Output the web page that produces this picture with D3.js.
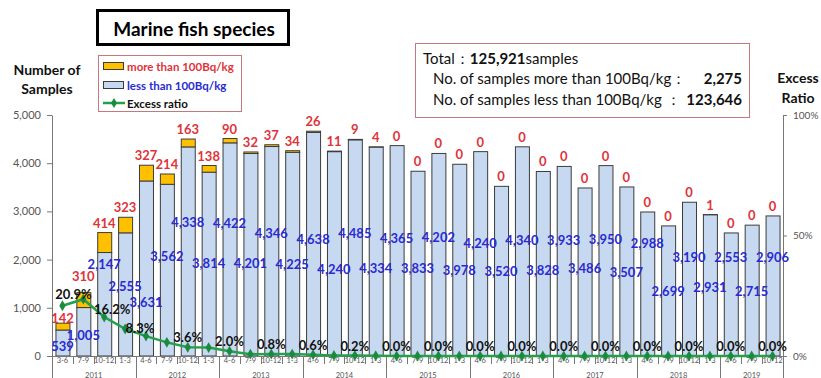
<!DOCTYPE html>
<html>
<head>
<meta charset="utf-8">
<script src="https://cdn.jsdelivr.net/npm/d3@7"></script>
<style>
  html, body { margin: 0; padding: 0; background: #fff; }
  svg { display: block; font-family: Lato, "Open Sans", sans-serif; }
</style>
</head>
<body>
<svg id="chart" width="821" height="378"></svg>
<script>
// Quarterly inspection results, marine fish species (fiscal years 2011-2019)
const periods = [
  "3-6","7-9","10-12","1-3",
  "4-6","7-9","10-12","1-3",
  "4-6","7-9","10-12","1-3",
  "4-6","7-9","10-12","1-3",
  "4-6","7-9","10-12","1-3",
  "4-6","7-9","10-12","1-3",
  "4-6","7-9","10-12","1-3",
  "4-6","7-9","10-12","1-3",
  "4-6","7-9","10-12"
];
const fiscalYears = ["2011","2012","2013","2014","2015","2016","2017","2018","2019"];
const periodsPerYear = [4,4,4,4,4,4,4,4,3];

// samples at or below 100 Bq/kg
const lessThan = [
  539,1005,2147,2555,
  3631,3562,4338,3814,
  4422,4201,4346,4225,
  4638,4240,4485,4334,
  4365,3833,4202,3978,
  4240,3520,4340,3828,
  3933,3486,3950,3507,
  2988,2699,3190,2931,
  2553,2715,2906
];
// samples above 100 Bq/kg
const moreThan = [
  142,310,414,323,
  327,214,163,138,
  90,32,37,34,
  26,11,9,4,
  0,0,0,0,
  0,0,0,0,
  0,0,0,0,
  0,0,0,1,
  0,0,0
];

const totalSamples = "125,921";
const totalMore = "2,275";
const totalLess = "123,646";

const leftTicks = [0,1000,2000,3000,4000,5000];
const rightTicks = [0,0.5,1];

// label placement (in sample-count units) for the "less than" numbers
const lessLabelAt = [
  200,440,1900,1450,
  1120,2080,2780,1930,
  2760,1930,2550,1910,
  2430,1810,2550,1830,
  2450,1830,2470,1790,
  2340,1760,2410,1790,
  2410,1830,2430,1740,
  2340,1350,2050,1430,
  2050,1350,2050
];

const W = 821, H = 378;
const X0 = 52, X1 = 783, Y0 = 356, Y1 = 115;
const svg = d3.select("#chart");

const n = periods.length;
const idx = d3.range(n);
const x = d3.scaleBand().domain(idx).range([X0, X1]).paddingInner(0.33).paddingOuter(0.165);
const step = x.step();
const y = d3.scaleLinear().domain([0, 5000]).range([Y0, Y1]);
const yR = d3.scaleLinear().domain([0, 1]).range([Y0, Y1]);
const ratio = idx.map(i => moreThan[i] / (moreThan[i] + lessThan[i]));
const cx = i => x(i) + x.bandwidth() / 2;

const BLUE_FILL = "#c6d9f1", ORANGE = "#ffc000", STROKE = "#3c3c3c";
const RED = "#e0333a", BLUE = "#2a2ad2", GREEN = "#22a04b", GREEN_D = "#1b8a3e";

// title box
svg.append("rect").attr("x", 97.5).attr("y", 10.5).attr("width", 191).attr("height", 34)
  .attr("fill", "#fff").attr("stroke", "#000").attr("stroke-width", 3);
svg.append("text").attr("x", 194).attr("y", 28).attr("text-anchor", "middle")
  .attr("dominant-baseline", "central").attr("font-size", 19).attr("font-weight", 700)
  .text("Marine fish species");

// axis titles
const axT = svg.append("g").attr("font-weight", 700).attr("font-size", 14).attr("fill", "#111").attr("text-anchor", "middle");
axT.append("text").attr("x", 47).attr("y", 75).text("Number of");
axT.append("text").attr("x", 47).attr("y", 94).text("Samples");
axT.append("text").attr("x", 798).attr("y", 83).text("Excess");
axT.append("text").attr("x", 798).attr("y", 103).text("Ratio");

// legend
const lg = svg.append("g");
lg.append("rect").attr("x", 98.5).attr("y", 55.5).attr("width", 143).attr("height", 56)
  .attr("fill", "#fff").attr("stroke", "#c47a7a").attr("stroke-width", 1);
lg.append("rect").attr("x", 103.5).attr("y", 62.5).attr("width", 20).attr("height", 7)
  .attr("fill", ORANGE).attr("stroke", STROKE);
lg.append("rect").attr("x", 103.5).attr("y", 81.5).attr("width", 20).attr("height", 7)
  .attr("fill", BLUE_FILL).attr("stroke", STROKE);
lg.append("line").attr("x1", 103).attr("x2", 125).attr("y1", 103).attr("y2", 103)
  .attr("stroke", GREEN).attr("stroke-width", 2.5);
lg.append("path").attr("d", d3.symbol(d3.symbolDiamond, 30)()).attr("transform", "translate(114,103)")
  .attr("fill", GREEN_D);
const lgText = lg.append("g").attr("font-size", 11.5).attr("font-weight", 700).attr("dominant-baseline", "central");
lgText.append("text").attr("x", 127).attr("y", 66).attr("fill", RED).text("more than 100Bq/kg");
lgText.append("text").attr("x", 127).attr("y", 85).attr("fill", BLUE).text("less than 100Bq/kg");
lgText.append("text").attr("x", 127).attr("y", 103).attr("fill", "#111").text("Excess ratio");

// summary box
const sb = svg.append("g");
sb.append("rect").attr("x", 415.5).attr("y", 43.5).attr("width", 334).attr("height", 74)
  .attr("fill", "#fff").attr("stroke", "#c47a7a");
const s1 = sb.append("text").attr("x", 423).attr("y", 64).attr("font-size", 15).attr("fill", "#111");
s1.append("tspan").text("Total\uFF1A");
s1.append("tspan").attr("font-weight", 700).text(totalSamples);
s1.append("tspan").text("samples");
sb.append("text").attr("x", 433).attr("y", 84).attr("font-size", 15).attr("fill", "#111")
  .text("No. of samples more than 100Bq/kg\uFF1A");
sb.append("text").attr("x", 742).attr("y", 84).attr("font-size", 15).attr("font-weight", 700)
  .attr("text-anchor", "end").attr("fill", "#111").text(totalMore);
sb.append("text").attr("x", 433).attr("y", 105).attr("font-size", 15).attr("fill", "#111")
  .text("No. of samples less than 100Bq/kg \uFF1A");
sb.append("text").attr("x", 742).attr("y", 105).attr("font-size", 15).attr("font-weight", 700)
  .attr("text-anchor", "end").attr("fill", "#111").text(totalLess);

// bars
const bars = svg.append("g");
bars.selectAll("rect.less").data(idx).join("rect").attr("class", "less")
  .attr("x", i => x(i) + 0.5).attr("width", x.bandwidth())
  .attr("y", i => y(lessThan[i])).attr("height", i => Y0 - y(lessThan[i]))
  .attr("fill", BLUE_FILL).attr("stroke", STROKE).attr("stroke-width", 1);
bars.selectAll("rect.more").data(idx.filter(i => moreThan[i] > 0)).join("rect").attr("class", "more")
  .attr("x", i => x(i) + 0.5).attr("width", x.bandwidth())
  .attr("y", i => y(lessThan[i] + moreThan[i])).attr("height", i => y(lessThan[i]) - y(lessThan[i] + moreThan[i]))
  .attr("fill", ORANGE).attr("stroke", STROKE).attr("stroke-width", 1);

// left axis
const gl = svg.append("g").attr("transform", `translate(${X0},0)`)
  .call(d3.axisLeft(y).tickValues(leftTicks).tickFormat(d3.format(",")).tickSize(5).tickSizeOuter(0));
gl.select(".domain").attr("stroke", "#777");
gl.selectAll(".tick line").attr("stroke", "#777");
gl.selectAll(".tick text").attr("font-size", 11).attr("fill", "#555").attr("font-family", "Lato, sans-serif").attr("dx", -3);

// right axis
const gr = svg.append("g").attr("transform", `translate(${X1},0)`)
  .call(d3.axisRight(yR).tickValues(rightTicks).tickFormat(d3.format(".0%")).tickSize(4).tickSizeOuter(0));
gr.select(".domain").attr("stroke", "#777");
gr.selectAll(".tick line").attr("stroke", "#777");
gr.selectAll(".tick text").attr("font-size", 10).attr("fill", "#555").attr("font-family", "Lato, sans-serif").attr("dx", 3);

// category axis with fiscal-year grouping
const ga = svg.append("g");
ga.append("line").attr("x1", X0).attr("x2", X1).attr("y1", Y0 + 0.5).attr("y2", Y0 + 0.5).attr("stroke", "#777");
const yearStarts = [0];
periodsPerYear.forEach((c, k) => yearStarts.push(yearStarts[k] + c));
d3.range(n + 1).forEach(b => {
  const bx = Math.round(X0 + b * step) + 0.5;
  const long = yearStarts.includes(b);
  ga.append("line").attr("x1", bx).attr("x2", bx).attr("y1", Y0).attr("y2", long ? H : Y0 + 8)
    .attr("stroke", "#777");
});
ga.selectAll("text.per").data(idx).join("text").attr("class", "per")
  .attr("x", cx).attr("y", Y0 + 4).attr("text-anchor", "middle").attr("dominant-baseline", "central")
  .attr("font-size", 7.5).attr("fill", "#555").text(i => periods[i]);
ga.selectAll("text.yr").data(fiscalYears).join("text").attr("class", "yr")
  .attr("x", (d, k) => X0 + (yearStarts[k] + periodsPerYear[k] / 2) * step)
  .attr("y", 375).attr("text-anchor", "middle").attr("dominant-baseline", "central")
  .attr("font-size", 7.5).attr("fill", "#555").text(d => d);

// excess ratio line
svg.append("path").datum(idx)
  .attr("d", d3.line().x(cx).y(i => yR(ratio[i])))
  .attr("fill", "none").attr("stroke", GREEN).attr("stroke-width", 2.5);
svg.append("g").selectAll("path").data(idx).join("path")
  .attr("d", d3.symbol(d3.symbolDiamond, 34)())
  .attr("transform", i => `translate(${cx(i)},${yR(ratio[i])})`)
  .attr("fill", GREEN_D);

// value labels: samples below the limit
svg.append("g").selectAll("text").data(idx).join("text")
  .attr("x", cx).attr("y", i => y(lessLabelAt[i]))
  .attr("text-anchor", "middle").attr("dominant-baseline", "central")
  .attr("font-size", 13).attr("font-weight", 700).attr("fill", BLUE)
  .text(i => d3.format(",")(lessThan[i]));

// value labels: samples above the limit
const moreLabelShift = idx.map(i => i === 0 ? 5 : i === 1 ? -7 : 0);
svg.append("g").selectAll("text").data(idx).join("text")
  .attr("x", cx).attr("y", i => y(lessThan[i] + moreThan[i]) - 10 + moreLabelShift[i])
  .attr("text-anchor", "middle").attr("dominant-baseline", "central")
  .attr("font-size", 13).attr("font-weight", 700).attr("fill", RED)
  .text(i => d3.format(",")(moreThan[i]));

// ratio labels on alternate quarters
const pctShift = { 0: [11, -2], 2: [8, 2], 4: [-6, 2] };
svg.append("g").selectAll("text").data(idx.filter(i => i % 2 === 0)).join("text")
  .attr("x", i => cx(i) + (pctShift[i] ? pctShift[i][0] : 0))
  .attr("y", i => yR(ratio[i]) - 10 + (pctShift[i] ? pctShift[i][1] : 0))
  .attr("text-anchor", "middle").attr("dominant-baseline", "central")
  .attr("font-size", 13).attr("font-weight", 700).attr("fill", "#111")
  .text(i => d3.format(".1%")(ratio[i]));
</script>
</body>
</html>
